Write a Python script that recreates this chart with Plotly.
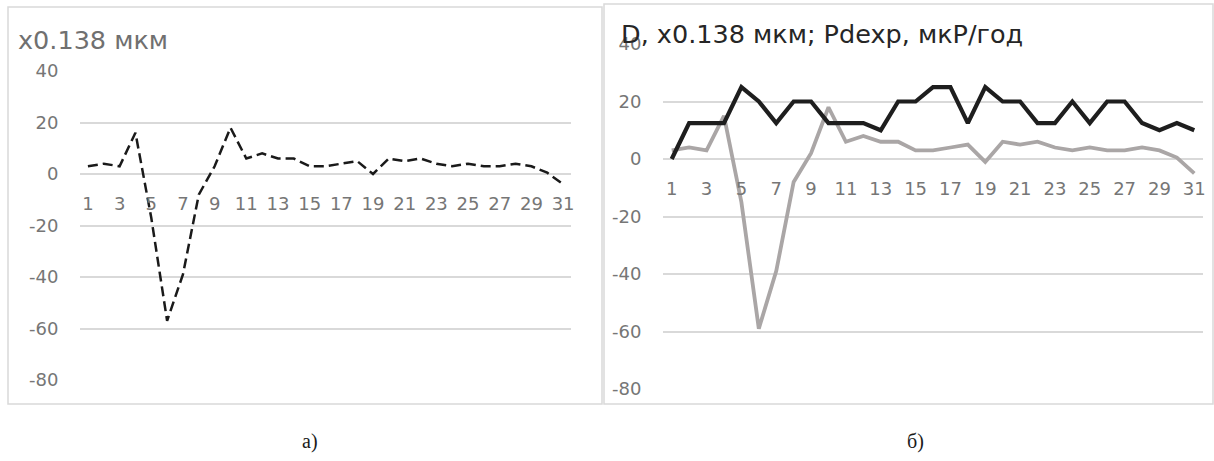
import plotly.graph_objects as go

W, H = 1214, 461

days = list(range(1, 32))
tick_days = list(range(1, 32, 2))
y_ticks = [-80, -60, -40, -20, 0, 20, 40]
y_tick_text = ["-80", "-60", "-40", "-20", "0", "20", "40"]

# panel a) : D, x0.138 мкм
d_a = [3, 4, 3, 16, -17, -57, -39, -8, 3, 18, 6, 8, 6, 6, 3, 3, 4, 5, 0, 6,
       5, 6, 4, 3, 4, 3, 3, 4, 3, 0.5, -4]
# panel б) : D (grey) and Pdexp (black)
d_b = [3, 4, 3, 15, -15, -59, -39, -8, 2, 18, 6, 8, 6, 6, 3, 3, 4, 5, -1, 6,
       5, 6, 4, 3, 4, 3, 3, 4, 3, 0.5, -5]
pdexp = [0, 12.5, 12.5, 12.5, 25, 20, 12.5, 20, 20, 12.5, 12.5, 12.5, 10, 20, 20,
         25, 25, 12.5, 25, 20, 20, 12.5, 12.5, 20, 12.5, 20, 20, 12.5, 10, 12.5, 10]

title_a = "x0.138 мкм"
title_b = "D, x0.138 мкм; Pdexp, мкР/год"
cap_a = "а)"
cap_b = "б)"

FONT = "DejaVu Sans"
TICK_COLOR = "#767676"
GRID = "#d9d9d9"
YMIN, YMAX = -80, 40


def px(x):
    return x / W


def py(y):
    return 1 - y / H


# plot areas (pixels)
A = dict(x0=80, x1=571, top=71, bottom=380)
B = dict(x0=663, x1=1203, top=44, bottom=389)


def zero_pos(p):
    d0, d1 = py(p["bottom"]), py(p["top"])
    return d0 + (0 - YMIN) / (YMAX - YMIN) * (d1 - d0)


fig = go.Figure()
fig.add_trace(go.Scatter(x=days, y=d_a, mode="lines", xaxis="x", yaxis="y",
                         line=dict(color="#1a1a1a", width=2.5, dash="10px,5px"),
                         showlegend=False))
fig.add_trace(go.Scatter(x=days, y=d_b, mode="lines", xaxis="x2", yaxis="y2",
                         line=dict(color="#aaa6a6", width=3.8),
                         showlegend=False))
fig.add_trace(go.Scatter(x=days, y=pdexp, mode="lines", xaxis="x2", yaxis="y2",
                         line=dict(color="#1e1e1e", width=4.2),
                         showlegend=False))

xcommon = dict(range=[0.5, 31.5], tickmode="array", tickvals=tick_days,
               ticktext=[str(t) for t in tick_days], showgrid=False,
               zeroline=False, showline=False, ticks="outside", ticklen=13,
               tickcolor="rgba(0,0,0,0)",
               tickfont=dict(family=FONT, size=18, color=TICK_COLOR),
               anchor="free", automargin=False)
ycommon = dict(range=[YMIN, YMAX], tickmode="array", tickvals=y_ticks,
               ticktext=y_tick_text,
               showgrid=True, gridcolor=GRID, gridwidth=1.6, zeroline=False,
               showline=False, ticks="outside", ticklen=17,
               tickcolor="rgba(0,0,0,0)", automargin=False,
               tickfont=dict(family=FONT, size=18, color=TICK_COLOR))

fig.update_layout(
    width=W, height=H, autosize=False,
    margin=dict(l=0, r=0, t=0, b=0, pad=0, autoexpand=False),
    paper_bgcolor="white", plot_bgcolor="white",
    xaxis=dict(xcommon, domain=[px(A["x0"]), px(A["x1"])], position=zero_pos(A)),
    yaxis=dict(ycommon, domain=[py(A["bottom"]), py(A["top"])], anchor="x"),
    xaxis2=dict(xcommon, domain=[px(B["x0"]), px(B["x1"])], position=zero_pos(B)),
    yaxis2=dict(ycommon, domain=[py(B["bottom"]), py(B["top"])], anchor="x2"),
)

# panel borders
fig.add_shape(type="rect", xref="paper", yref="paper",
              x0=px(8), x1=px(602), y0=py(404), y1=py(7),
              line=dict(color=GRID, width=1.5))
fig.add_shape(type="rect", xref="paper", yref="paper",
              x0=px(604), x1=px(1213), y0=py(404), y1=py(4),
              line=dict(color=GRID, width=1.5))

# titles
fig.add_annotation(text=title_a, xref="paper", yref="paper", x=px(16), y=py(40),
                   xanchor="left", yanchor="middle", showarrow=False,
                   font=dict(family=FONT, size=25.5, color="#707070"))
fig.add_annotation(text=title_b, xref="paper", yref="paper", x=px(619), y=py(34),
                   xanchor="left", yanchor="middle", showarrow=False,
                   font=dict(family=FONT, size=25.5, color="#262626"))

# captions
fig.add_annotation(text=cap_a, xref="paper", yref="paper", x=px(310), y=py(441),
                   xanchor="center", yanchor="middle", showarrow=False,
                   font=dict(family="Liberation Serif", size=20, color="#1a1a1a"))
fig.add_annotation(text=cap_b, xref="paper", yref="paper", x=px(915), y=py(441),
                   xanchor="center", yanchor="middle", showarrow=False,
                   font=dict(family="Liberation Serif", size=20, color="#1a1a1a"))

fig.write_html(
    "out.html",
    config={"displayModeBar": False},
    post_script="document.body.style.margin='0px';"
                "document.documentElement.style.overflow='hidden';"
                "document.body.style.overflow='hidden';",
)
